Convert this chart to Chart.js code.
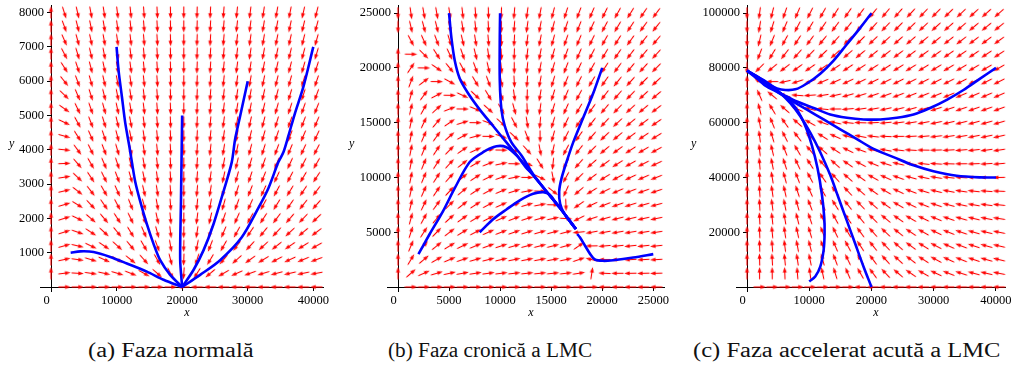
<!DOCTYPE html>
<html lang="ro">
<head>
<meta charset="UTF-8">
<title>Portrete de faza LMC</title>
<script src="https://cdn.jsdelivr.net/npm/chart.js@4.4.1/dist/chart.umd.min.js"></script>
<style>
  * { margin: 0; padding: 0; box-sizing: border-box; }
  body { width: 1014px; height: 370px; background: #fff; position: relative; overflow: hidden; }
  .panel { position: absolute; top: 0; height: 320px; }
  .panel canvas { position: absolute; left: 0; top: 0; }
  .ylab { position: absolute; top: 136px; font-family: "Liberation Serif", "Times New Roman", "DejaVu Serif", serif;
          font-style: italic; font-size: 12px; color: #000; }
  .caption { position: absolute; top: 338px; font-family: "Liberation Serif", "Times New Roman", "DejaVu Serif", serif;
             font-size: 20px; line-height: 24px; white-space: nowrap; transform-origin: left center; color: #111; }
</style>
</head>
<body>
<div class="panel" style="left:0;width:340px"><canvas id="ca" width="340" height="320"></canvas><span class="ylab" style="left:9px">y</span></div>
<div class="panel" style="left:340px;width:340px"><canvas id="cb" width="340" height="320"></canvas><span class="ylab" style="left:9px">y</span></div>
<div class="panel" style="left:680px;width:334px"><canvas id="cc" width="334" height="320"></canvas><span class="ylab" style="left:11px">y</span></div>
<div class="caption" style="left:88px" data-w="165">(a) Faza normală</div>
<div class="caption" style="left:388px" data-w="204">(b) Faza cronică a LMC</div>
<div class="caption" style="left:693px" data-w="307">(c) Faza accelerat acută a LMC</div>

<script>
// tick labels
const ticksXA = [0, 10000, 20000, 30000, 40000];
const ticksYA = [1000, 2000, 3000, 4000, 5000, 6000, 7000, 8000];
const ticksXB = [0, 5000, 10000, 15000, 20000, 25000];
const ticksYB = [5000, 10000, 15000, 20000, 25000];
const ticksXC = [0, 10000, 20000, 30000, 40000];
const ticksYC = [20000, 40000, 60000, 80000, 100000];

// grid where the direction arrows sit
const gridXA = [0, 2025, 4050, 6075, 8100, 10125, 12150, 14175, 16200, 18225, 20250,
                22275, 24300, 26325, 28350, 30375, 32400, 34425, 36450, 38475, 40500];
const gridYA = [0, 400, 800, 1200, 1600, 2000, 2400, 2800, 3200, 3600, 4000,
                4400, 4800, 5200, 5600, 6000, 6400, 6800, 7200, 7600, 8000];
const gridXB = [0, 1265, 2530, 3795, 5060, 6325, 7590, 8855, 10120, 11385, 12650,
                13915, 15180, 16445, 17710, 18975, 20240, 21505, 22770, 24035, 25300];
const gridYB = [0, 1250, 2500, 3750, 5000, 6250, 7500, 8750, 10000, 11250, 12500,
                13750, 15000, 16250, 17500, 18750, 20000, 21250, 22500, 23750, 25000];
const gridXC = gridXA;
const gridYC = [0, 5000, 10000, 15000, 20000, 25000, 30000, 35000, 40000, 45000, 50000,
                55000, 60000, 65000, 70000, 75000, 80000, 85000, 90000, 95000, 100000];

// competition model parameters: r1, K1, alpha, r2, K2, beta
const paramsA = [1, 20000, 0, 0.32, 10000, 3.1];
const paramsB = [1, 19500, 0.405, 0.84, 22500, 0.994];
const paramsC = [1, 17000, 2.93, 19.3, 79000, 1.0];

// trajectories
const trajA = [
  [[10000,7000],[10306,6309],[10814,5546],[11322,4784],[11931,4117],[12337,3640],[12845,3069],[13606,2497],[14622,1830],[15637,1258],[16653,781],[18176,353],[20000,0]],
  [[20000,5000],[19820,2500],[19700,800],[20000,0]],
  [[30000,6000],[28837,4975],[28075,4308],[27568,3640],[26299,2783],[24776,1830],[23253,1067],[21729,496],[20000,0]],
  [[40000,7000],[38484,5832],[37214,5070],[36199,4403],[35437,3926],[34676,3640],[33153,2878],[31630,2306],[29091,1449],[25791,781],[22745,353],[20000,0]],
  [[3000,1000],[4468,1039],[6499,1020],[9037,877],[11575,686],[14622,448],[17160,210],[20000,0]]
];
const trajB = [
  [[5000,25000],[5229,22761],[5556,20670],[6046,19027],[6863,17683],[8007,16190],[9314,14696],[10621,13203],[11928,11709],[13235,10216],[14543,8722],[15850,7229],[17420,5290]],
  [[10000,25000],[9967,22761],[9967,18878],[10131,16190],[10458,14696],[11112,13203],[12092,12008],[13235,10300],[14543,8722],[15850,7229],[17420,5290]],
  [[2000,3000],[3105,4839],[4412,6930],[5556,9021],[7026,11410],[8333,12306],[9641,12844],[10621,12754],[11601,12008],[12500,10950],[13235,10216],[14543,8722],[15850,7229],[17420,5290]],
  [[8000,5000],[9314,6183],[10621,7079],[11928,7916],[13235,8513],[14216,8662],[14870,8423],[15450,7700],[15850,7229],[17420,5290]],
  [[20000,20000],[19118,17683],[18137,15443],[17157,13203],[16503,11410],[16013,9917],[15784,8722],[15880,7600],[16300,6673],[17420,5290]],
  [[25000,3000],[23039,2688],[21079,2449],[20098,2390],[19281,2509],[18791,3047],[18301,3793],[17811,4540],[17549,4839]]
];
const trajC = [
  [[20000,100000],[18190,94644],[16050,88669],[13910,82694],[11770,77914],[9630,74329],[7758,72178],[6153,71939],[4815,72537],[3210,74329],[1605,76719],[0,79000]],
  [[40000,80000],[37450,76122],[34775,71939],[32100,68354],[29425,65367],[26750,62977],[24075,61782],[21400,61184],[18725,61184],[16050,61782],[13375,62977],[10700,65367],[8025,67757],[5350,70744],[3210,73134],[1605,76122],[0,79000]],
  [[40000,40000],[37450,40033],[33705,40630],[29960,42303],[26750,44454],[23540,47442],[20330,50429],[17655,54014],[14980,57599],[12305,61184],[9630,64769],[6955,68354],[4815,71342],[2675,74927],[0,79000]],
  [[20000,0],[18725,7409],[17388,15774],[16050,24139],[14713,32504],[13375,40869],[11770,49234],[10165,56404],[8560,62379],[6955,67159],[4815,71939],[2675,75524],[0,79000]],
  [[10000,2000],[10968,3824],[11770,7409],[12305,13384],[12466,19359],[12412,25334],[12038,33699],[11342,43259],[10433,51624],[9363,58794],[8025,64769],[6420,68952],[4280,72537],[2140,76122],[0,79000]]
];

const FONT = "'Liberation Serif', 'Times New Roman', 'DejaVu Serif', serif";

function field(p, x, y) {
  const [r1, K1, a, r2, K2, b] = p;
  return [r1 * x * (1 - (x + a * y) / K1), r2 * y * (1 - (y + b * x) / K2)];
}

// small red arrow, pointing right, rotated per point by chart.js
const arrowImg = (() => {
  const c = document.createElement('canvas');
  c.width = 13; c.height = 7;
  const g = c.getContext('2d');
  g.strokeStyle = '#ff0000'; g.fillStyle = '#ff0000'; g.lineWidth = 1.1;
  g.beginPath(); g.moveTo(0.5, 3.5); g.lineTo(8.5, 3.5); g.stroke();
  g.beginPath(); g.moveTo(12.8, 3.5); g.lineTo(7.3, 1.4); g.lineTo(7.3, 5.6); g.closePath(); g.fill();
  return c;
})();

const axisStubs = {
  id: 'axisStubs',
  afterDraw(chart, args, opts) {
    const { ctx, chartArea: a } = chart;
    ctx.save();
    ctx.strokeStyle = '#000'; ctx.lineWidth = 1;
    ctx.beginPath();
    ctx.moveTo(a.left - opts.left, Math.round(a.bottom) + 0.5); ctx.lineTo(a.left, Math.round(a.bottom) + 0.5);
    ctx.moveTo(Math.round(a.left) + 0.5, a.bottom); ctx.lineTo(Math.round(a.left) + 0.5, a.bottom + opts.down);
    ctx.stroke();
    ctx.restore();
  }
};

function phasePlot(id, gx, gy, params, trajs, tx, ty, xMax, yMax, yWidth, padRight) {
  const grid = [];
  gx.forEach(x => gy.forEach(y => grid.push({ x, y })));

  const datasets = trajs.map(t => ({
    data: t.map(([x, y]) => ({ x, y })),
    showLine: true, borderColor: '#0000ff', borderWidth: 2.6,
    pointRadius: 0, tension: 0.3, clip: false, order: 1
  }));
  datasets.push({
    data: grid, showLine: false, clip: false, order: 2,
    pointStyle: arrowImg,
    pointRadius: c => {
      if (!c.raw) return 3;
      const [dx, dy] = field(params, c.raw.x, c.raw.y);
      return (dx === 0 && dy === 0) ? 0 : 3;
    },
    rotation: c => {
      if (!c.raw) return 0;
      const [dx, dy] = field(params, c.raw.x, c.raw.y);
      const sx = c.chart.scales.x, sy = c.chart.scales.y;
      const kx = sx.getPixelForValue(1000) - sx.getPixelForValue(0);
      const ky = sy.getPixelForValue(1000) - sy.getPixelForValue(0);
      return Math.atan2(dy * ky, dx * kx) * 180 / Math.PI;
    }
  });

  new Chart(document.getElementById(id), {
    type: 'scatter',
    data: { datasets },
    plugins: [axisStubs],
    options: {
      responsive: false,
      animation: false,
      events: [],
      layout: { padding: { left: 0, top: 0, right: padRight, bottom: 0 } },
      plugins: { legend: { display: false }, tooltip: { enabled: false }, axisStubs: { left: 11, down: 5 } },
      scales: {
        x: {
          type: 'linear', min: 0, max: xMax,
          grid: { drawOnChartArea: false, drawTicks: true, tickLength: 4, color: '#000' },
          border: { display: true, color: '#000', width: 1 },
          ticks: {
            autoSkip: false, maxRotation: 0,
            padding: 2, color: '#000', font: { family: FONT, size: 12.5 },
            callback: v => v === 0 ? '0\u2002\u2009' : String(v)
          },
          afterBuildTicks: s => { s.ticks = tx.map(v => ({ value: v })); },
          title: { display: true, text: 'x', color: '#000', padding: 0, font: { family: FONT, size: 12, style: 'italic' } },
          afterFit: s => { s.height = 33; s.paddingLeft = 0; s.paddingRight = 0; }
        },
        y: {
          type: 'linear', min: 0, max: yMax,
          grid: { drawOnChartArea: false, drawTicks: true, tickLength: 4, color: '#000' },
          border: { display: true, color: '#000', width: 1 },
          ticks: {
            autoSkip: false,
            padding: 3, color: '#000', font: { family: FONT, size: 12.5 },
            callback: v => String(v)
          },
          afterBuildTicks: s => { s.ticks = ty.map(v => ({ value: v })); },
          afterFit: s => { s.width = yWidth; s.paddingTop = 0; s.paddingBottom = 0; }
        }
      }
    }
  });
}

phasePlot('ca', gridXA, gridYA, paramsA, trajA, ticksXA, ticksYA, 41480, 8220, 51, 17);
phasePlot('cb', gridXB, gridYB, paramsB, trajB, ticksXB, ticksYB, 26050, 25745, 58, 16);
phasePlot('cc', gridXC, gridYC, paramsC, trajC, ticksXC, ticksYC, 41450, 102990, 67, 9);

document.querySelectorAll('.caption').forEach(el => {
  el.style.transform = 'scaleX(' + (+el.dataset.w / el.offsetWidth) + ')';
});
</script>
</body>
</html>
